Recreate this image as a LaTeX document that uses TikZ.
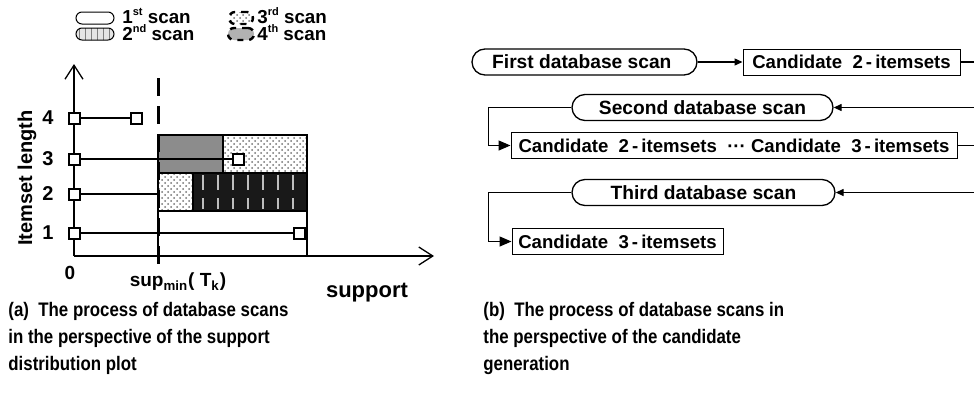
\documentclass[tikz,border=0pt]{standalone}
\usepackage{fontspec}
\setmainfont{Liberation Sans}
\newfontfamily\capfont{Liberation Sans}[FakeStretch=0.86]
\newcommand\ordsup[1]{\smash{\raisebox{0.8ex}{\fontsize{5.5}{6}\selectfont #1}}}
\usetikzlibrary{arrows.meta,patterns}
\tikzset{
	capsule/.style={draw,line width=0.65pt,rounded corners=6.5pt,minimum height=13pt,inner sep=1pt,font=\bfseries\fontsize{9.6}{10}\selectfont},
	candbox/.style={draw,line width=0.5pt,minimum height=13pt,inner sep=2pt,font=\bfseries\fontsize{9.3}{10}\selectfont},
	sqpt/.style={draw,line width=1pt,fill=white,minimum size=5.5pt,inner sep=0pt},
	lbl/.style={inner sep=0pt,font=\bfseries\fontsize{10}{12}\selectfont},
	legcap/.style={draw,line width=0.5pt,rounded corners=3pt,minimum width=19pt,minimum height=6pt,inner sep=0pt},
	legtxt/.style={anchor=base west,inner sep=0pt,font=\bfseries\fontsize{9.4}{11}\selectfont},
	axis/.style={line width=0.65pt,-{Straight Barb[length=7pt,width=9pt]}},
	dots/.style={pattern=crosshatch dots,pattern color=black!55},
	smalltip/.style={line width=0.65pt,-{Triangle[length=4pt,width=3.5pt]}},
	bigtip/.style={line width=0.65pt,-{Triangle[length=6pt,width=5pt]}},
	caption/.style={align=left,anchor=north west,inner sep=0pt,font=\capfont\bfseries\fontsize{9.8}{13.5}\selectfont},
}
\begin{document}
\begin{tikzpicture}[x=0.5pt,y=-0.5pt]
	\useasboundingbox (0,0) rectangle (974,402);
	\node[legcap] (leg1) at (95,18) {};
	\node[legcap,preaction={fill=gray!20},pattern=vertical lines,pattern color=gray] (leg2) at (95,34) {};
	\node[legcap,dashed,line width=1.2pt,dots,minimum width=12pt] (leg3) at (241,18) {};
	\node[legcap,dashed,line width=1.2pt,fill=gray!60,minimum width=13pt] (leg4) at (241,34) {};
	\node[legtxt] (legt1) at (122,23) {1\ordsup{st} scan};
	\node[legtxt] (legt2) at (122,40) {2\ordsup{nd} scan};
	\node[legtxt] (legt3) at (257,23) {3\ordsup{rd} scan};
	\node[legtxt] (legt4) at (257,40) {4\ordsup{th} scan};
	\fill[black!45] (158,135) rectangle (223,173);
	\path[dots] (223,135) rectangle (307,173);
	\path[dots] (158,173) rectangle (193,211);
	\fill[black!90] (193,173) rectangle (307,211);
	\foreach \x in {203,218,...,293}
		\draw[black!25,line width=1.3pt] (\x,175) -- (\x,190) (\x,198) -- (\x,209);
	\draw[line width=0.6pt] (158,135) rectangle (307,256);
	\draw[line width=0.6pt] (158,173) -- (307,173) (158,211) -- (307,211) (223,135) -- (223,173) (193,173) -- (193,211);
	\coordinate (o) at (74,256);
	\coordinate (ytop) at (74,64);
	\coordinate (xend) at (434,256);
	\draw[axis] (o) -- (ytop);
	\draw[axis] (o) -- (xend);
	\node[lbl,rotate=90] (ylab) at (27,178) {Itemset length};
	\node[lbl] (n4) at (48,118) {4};
	\node[lbl] (n3) at (48,159) {3};
	\node[lbl] (n2) at (48,194) {2};
	\node[lbl] (n1) at (48,233) {1};
	\node[lbl,font=\bfseries\fontsize{9.5}{11}\selectfont] (zero) at (70,273) {0};
	\node[lbl,font=\bfseries\fontsize{9.5}{11}\selectfont] (supmin) at (178,282) {sup\textsubscript{min}( T\textsubscript{k})};
	\node[lbl,font=\bfseries\fontsize{11}{13}\selectfont] (supp) at (367,293) {support};
	\coordinate (e2) at (158,194);
	\draw[line width=1pt] (74,118) -- (136,118);
	\draw[line width=1pt] (74,159) -- (238,159);
	\draw[line width=1pt] (74,194) -- (e2);
	\draw[line width=1pt] (74,233) -- (299,233);
	\draw[line width=1.5pt,dash pattern=on 9pt off 5pt] (158,78) -- (158,268);
	\node[sqpt] (s4) at (74,118) {};
	\node[sqpt] (s3) at (74,159) {};
	\node[sqpt] (s2) at (74,194) {};
	\node[sqpt] (s1) at (74,233) {};
	\node[sqpt] (e4) at (136,118) {};
	\node[sqpt] (e3) at (238,159) {};
	\node[sqpt] (e1) at (299,233) {};
	\node[capsule,minimum width=112.5pt] (scan1) at (584.5,62) {First database scan\ \ };
	\node[candbox,minimum width=108.5pt] (cand2) at (851.5,62) {Candidate\ \ 2\,-\,itemsets};
	\node[capsule,minimum width=130.5pt] (scan2) at (702.5,107.5) {Second database scan};
	\node[candbox,minimum width=223pt] (cand23) at (734,145.5) {Candidate\ \ 2\,-\,itemsets\ \ ···\ Candidate\ \ 3\,-\,itemsets};
	\node[capsule,minimum width=131.5pt] (scan3) at (703.5,192.5) {Third database scan};
	\node[candbox,minimum width=105.5pt] (cand3) at (617.5,241.5) {Candidate\ \ 3\,-\,itemsets};
	\coordinate (r1) at (974,62);
	\coordinate (r2) at (974,107.5);
	\coordinate (r3) at (974,145.5);
	\coordinate (r4) at (974,192.5);
	\draw[smalltip] (scan1) -- (cand2);
	\draw[line width=0.65pt] (cand2) -- (r1);
	\draw[smalltip] (r2) -- (scan2);
	\draw[bigtip] (scan2.west) -- ++(-83,0) |- (cand23.west);
	\draw[line width=0.65pt] (cand23) -- (r3);
	\draw[smalltip] (r4) -- (scan3);
	\draw[bigtip] (scan3.west) -- ++(-83,0) |- (cand3.west);
	\node[caption] (capa) at (8,302) {(a)\ \ The process of database scans\\in the perspective of the support\\distribution plot};
	\node[caption] (capb) at (483,302) {(b)\ \ The process of database scans in\\the perspective of the candidate\\generation};
\end{tikzpicture}
\end{document}
